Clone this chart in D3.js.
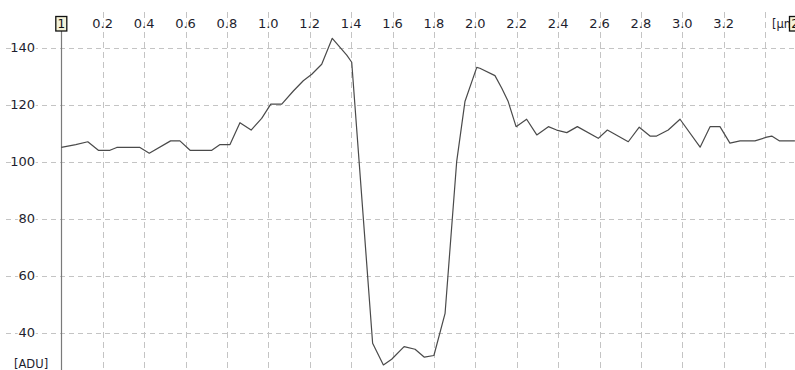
<!DOCTYPE html>
<html><head><meta charset="utf-8">
<script src="https://d3js.org/d3.v7.min.js"></script>
<style>
html,body{margin:0;padding:0;background:#fff;}
svg{display:block;}
text{font-family:"DejaVu Sans",Verdana,sans-serif;}
</style></head>
<body>
<svg id="c" width="795" height="370"></svg>
<script>
// positions in micrometres
const positions = [0.00,0.07,0.128,0.179,0.235,0.268,0.38,0.425,0.528,0.573,0.622,0.727,0.767,0.815,0.863,0.917,0.968,
  1.012,1.065,1.121,1.169,1.21,1.258,1.309,1.379,1.403,1.504,1.556,1.596,1.656,1.709,1.754,1.80,1.854,1.91,1.95,2.007,2.022,
  2.095,2.128,2.159,2.197,2.248,2.297,2.353,2.393,2.442,2.493,2.594,2.638,2.739,2.792,2.844,2.876,2.932,2.989,3.086,3.134,
  3.182,3.23,3.279,3.351,3.408,3.432,3.47,3.544];
// intensity values in ADU
const values = [105,106,107,104,104,105,105,103,107.3,107.3,104,104,106,106,113.7,111.1,115.2,
  120.2,120.2,124.8,128.4,130.7,134.2,143.3,137.4,134.9,36.3,28.7,30.7,35.1,34.2,31.4,32.0,46.8,100,121.1,133.1,132.8,
  130.2,125.8,121.1,112.3,114.9,109.4,112.3,111.1,110.2,112.3,108.2,111.1,107,112.1,109,109,111.1,114.9,105.1,112.3,
  112.3,106.5,107.3,107.3,108.6,109,107.3,107.3];
const xTicks = [0.2,0.4,0.6,0.8,1.0,1.2,1.4,1.6,1.8,2.0,2.2,2.4,2.6,2.8,3.0,3.2,3.4];
const xTickLabels = ["0.2","0.4","0.6","0.8","1.0","1.2","1.4","1.6","1.8","2.0","2.2","2.4","2.6","2.8","3.0","3.2",""];
const yTicks = [40,60,80,100,120,140];
const xUnit = "[μm]";
const yUnit = "[ADU]";
const leftMarker = "1";
const rightMarker = "2";

const W = 795, H = 370;
const svg = d3.select("#c");
const x = d3.scaleLinear().domain([0, 3.4]).range([61.3, 765.1]);
const y = d3.scaleLinear().domain([40, 140]).range([332.7, 47.7]);

const gridColor = "#c4c4c4";
// horizontal grid
svg.append("g").selectAll("line").data(yTicks).join("line")
  .attr("x1", 6).attr("x2", W)
  .attr("y1", d => Math.round(y(d)) + 0.5).attr("y2", d => Math.round(y(d)) + 0.5)
  .attr("stroke", gridColor).attr("stroke-dasharray", "5,4");
// vertical grid
svg.append("g").selectAll("line").data(xTicks).join("line")
  .attr("x1", d => Math.round(x(d)) + 0.5).attr("x2", d => Math.round(x(d)) + 0.5)
  .attr("y1", 12).attr("y2", H)
  .attr("stroke", gridColor).attr("stroke-dasharray", "6,4");

// top labels
svg.append("g").selectAll("text").data(xTicks).join("text")
  .attr("x", d => x(d)).attr("y", 28)
  .attr("text-anchor", "middle").attr("font-size", 13).attr("fill", "#1e1e2e")
  .text((d, i) => xTickLabels[i]);

// left labels
svg.append("g").selectAll("text").data(yTicks).join("text")
  .attr("x", 35).attr("y", d => y(d) + 4.5)
  .attr("text-anchor", "end").attr("font-size", 13).attr("fill", "#1e1e2e")
  .attr("stroke", "#fff").attr("stroke-width", 3).attr("paint-order", "stroke")
  .text(d => d);

// y axis line
svg.append("line").attr("x1", Math.round(x(0)) + 0.5).attr("x2", Math.round(x(0)) + 0.5)
  .attr("y1", 31).attr("y2", H).attr("stroke", "#7a7a7a").attr("stroke-width", 1.2);

// data line
const pts = positions.map((p, i) => [p, values[i]]);
svg.append("path").datum(pts)
  .attr("d", d3.line().x(d => x(d[0])).y(d => y(d[1])))
  .attr("fill", "none").attr("stroke", "#4a4a4a").attr("stroke-width", 1.2)
  .attr("stroke-linejoin", "round");

// unit labels
svg.append("text").attr("x", 14).attr("y", 368).attr("font-size", 11.5).attr("fill", "#1e1e2e").text(yUnit);
svg.append("text").attr("x", 772).attr("y", 28).attr("font-size", 11.5).attr("fill", "#1e1e2e").text(xUnit);

// marker boxes
function marker(cx, label) {
  const g = svg.append("g");
  g.append("rect").attr("x", cx - 5.5).attr("y", 16.5).attr("width", 11).attr("height", 14.5)
    .attr("fill", "#f4f2d8").attr("stroke", "#111").attr("stroke-width", 1.3);
  g.append("text").attr("x", cx).attr("y", 28).attr("text-anchor", "middle")
    .attr("font-size", 12).attr("fill", "#111").text(label);
}
marker(x(0), leftMarker);
marker(795, rightMarker);
</script>
</body></html>
